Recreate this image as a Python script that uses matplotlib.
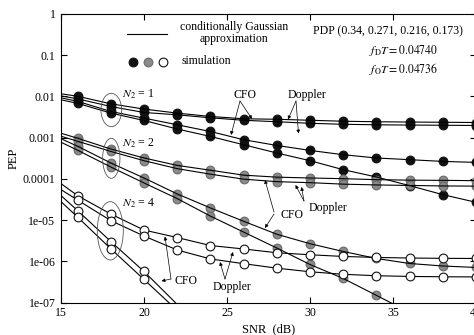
import numpy as np
import matplotlib
matplotlib.use("Agg")
import matplotlib.pyplot as plt
from matplotlib.patches import Ellipse
from matplotlib.lines import Line2D
from matplotlib.transforms import IdentityTransform
from matplotlib.ticker import NullLocator

plt.rcParams["font.family"] = "Liberation Serif"
plt.rcParams["mathtext.fontset"] = "stix"
plt.rcParams["font.size"] = 8.5

# SNR grid (dB); 15 dB is where the approximation lines start
snr = np.array([15, 16, 18, 20, 22, 24, 26, 28, 30, 32, 34, 36, 38, 40])

# N2 = 1 (black)
n1_a = [1.16e-2, 1.01e-2, 6.62e-3, 4.93e-3, 3.94e-3, 3.26e-3, 2.87e-3, 2.79e-3, 2.64e-3, 2.50e-3, 2.43e-3, 2.39e-3, 2.36e-3, 2.33e-3]
n1_b = [1.03e-2, 8.75e-3, 5.69e-3, 4.08e-3, 3.58e-3, 3.03e-3, 2.64e-3, 2.43e-3, 2.23e-3, 2.11e-3, 2.05e-3, 2.02e-3, 2.00e-3, 1.97e-3]
n1_c = [9.25e-3, 7.61e-3, 4.31e-3, 2.98e-3, 2.05e-3, 1.41e-3, 8.90e-4, 6.47e-4, 4.90e-4, 3.85e-4, 3.21e-4, 2.92e-4, 2.65e-4, 2.51e-4]
n1_d = [8.27e-3, 6.81e-3, 3.94e-3, 2.61e-3, 1.62e-3, 1.07e-3, 6.73e-4, 4.24e-4, 2.76e-4, 1.67e-4, 1.11e-4, 6.85e-5, 4.14e-5, 2.70e-5]

# N2 = 2 (grey)
n2_a = [1.28e-3, 9.67e-4, 5.30e-4, 3.21e-4, 2.12e-4, 1.62e-4, 1.23e-4, 1.10e-4, 1.05e-4, 1.01e-4, 9.56e-5, 9.30e-5, 9.20e-5, 9.04e-5]
n2_b = [1.08e-3, 8.18e-4, 4.63e-4, 2.76e-4, 1.77e-4, 1.30e-4, 9.83e-5, 8.55e-5, 8.09e-5, 7.44e-5, 7.12e-5, 6.92e-5, 6.73e-5, 6.66e-5]
n2_c = [9.41e-4, 6.19e-4, 2.43e-4, 1.05e-4, 4.31e-5, 1.97e-5, 9.35e-6, 4.53e-6, 2.67e-6, 1.73e-6, 1.17e-6, 8.84e-7, 7.69e-7, 7.08e-7]
n2_d = [7.74e-4, 4.95e-4, 1.94e-4, 7.96e-5, 3.32e-5, 1.25e-5, 5.12e-6, 2.10e-6, 8.36e-7, 3.83e-7, 1.49e-7, 5.76e-8]

# N2 = 4 (white)
n4_a = [7.65e-5, 3.92e-5, 1.40e-5, 5.73e-6, 3.77e-6, 2.41e-6, 1.99e-6, 1.61e-6, 1.44e-6, 1.31e-6, 1.24e-6, 1.20e-6, 1.18e-6, 1.17e-6]
n4_b = [5.48e-5, 3.05e-5, 9.72e-6, 4.10e-6, 1.88e-6, 1.14e-6, 8.75e-7, 6.81e-7, 5.57e-7, 4.84e-7, 4.46e-7, 4.29e-7, 4.21e-7, 4.17e-7]
n4_c = [3.92e-5, 1.70e-5, 3.02e-6, 5.66e-7, 9.0e-8]
n4_d = [2.80e-5, 1.18e-5, 2.01e-6, 3.62e-7, 6.44e-8]

yticks = [1, 0.1, 0.01, 0.001, 0.0001, 1e-5, 1e-6, 1e-7]
ytick_labels = ["1", "0.1", "0.01", "0.001", "0.0001", "1e-05", "1e-06", "1e-07"]
xticks = [15, 20, 25, 30, 35, 40]

black = dict(mfc="#111111", mec="#111111", zorder=2)
grey = dict(mfc="#8a8a8a", mec="#6a6a6a", zorder=2)
white = dict(mfc="white", mec="#111111", zorder=4)

curves = [(n1_a, black), (n1_b, black), (n1_c, black), (n1_d, black),
          (n2_a, grey), (n2_b, grey), (n2_c, grey), (n2_d, grey),
          (n4_a, white), (n4_b, white), (n4_c, white), (n4_d, white)]

W, H = 474, 335
fig = plt.figure(figsize=(W / 100, H / 100), dpi=100)
ax = fig.add_axes([61 / W, 32.5 / H, 415 / W, 288.5 / H])

for pep, st in curves:
    pep = np.array(pep)
    x = snr[:len(pep)]
    ax.plot(x, pep, color="k", lw=0.8, zorder=3)
    keep = (x > 15) & (pep >= 1e-7)
    ax.plot(x[keep], pep[keep], "o", ms=6.3, mew=0.8, ls="none", **st)

ax.set_yscale("log")
ax.set_xlim(15, 40)
ax.set_ylim(1e-7, 1)
ax.set_xticks(xticks)
ax.set_yticks(yticks)
ax.set_yticklabels(ytick_labels)
ax.yaxis.set_minor_locator(NullLocator())
ax.tick_params(direction="in", top=True, right=True, length=4, width=0.8)
ax.tick_params(axis="x", pad=3)
ax.tick_params(axis="y", pad=4)
for s in ax.spines.values():
    s.set_linewidth(0.8)
ax.set_xlabel("SNR  (dB)", fontsize=9, labelpad=3)
ax.set_ylabel("PEP", fontsize=9, labelpad=2)


# annotation helpers in image pixels (origin top-left)
def fp(x, y):
    return (x, H - y)


def txt(s, x, y, ha="center"):
    ax.annotate(s, xy=fp(x, y), xycoords="figure pixels", ha=ha, va="center")


def arrow(x0, y0, x1, y1):
    ax.annotate("", xy=fp(x1, y1), xytext=fp(x0, y0), xycoords="figure pixels",
                textcoords="figure pixels",
                arrowprops=dict(arrowstyle="-|>", lw=0.5, color="k",
                                mutation_scale=5, shrinkA=0, shrinkB=0))


def ellipse(cx, cy, w, h):
    fig.add_artist(Ellipse(fp(cx, cy), w, h, transform=IdentityTransform(),
                           fill=False, ec="#555555", lw=0.6))


# legend block
fig.add_artist(Line2D([127, 167], [H - 34, H - 34], transform=IdentityTransform(),
                      color="k", lw=0.8))
ax.annotate("conditionally Gaussian\napproximation", xy=fp(234, 33),
            xycoords="figure pixels", ha="center", va="center", linespacing=1.0)
for xm, st in [(133, black), (148, grey), (163, white)]:
    fig.add_artist(Line2D([xm], [H - 61.5], transform=IdentityTransform(), marker="o",
                          ms=6.3, mew=0.8, mfc=st["mfc"], mec=st["mec"], ls="none"))
txt("simulation", 182, 61.5, ha="left")

txt("PDP (0.34, 0.271, 0.216, 0.173)", 388, 31.5)
txt(r"$f_{\mathrm{D}}T = 0.04740$", 369, 51, ha="left")
txt(r"$f_{\mathrm{O}}T = 0.04736$", 369, 69, ha="left")

# group labels and ellipses
txt(r"$N_2$ = 1", 122, 94, ha="left")
txt(r"$N_2$ = 2", 122, 143.5, ha="left")
txt(r"$N_2$ = 4", 122, 203.5, ha="left")
ellipse(111.3, 110, 20.7, 33.3)
ellipse(111.3, 158.3, 17.3, 40)
ellipse(110.3, 230.8, 26, 58.3)

# CFO / Doppler call-outs
txt("CFO", 245, 95)
arrow(240, 101, 231, 135)
arrow(240, 101, 252, 119)
txt("Doppler", 307, 95)
arrow(296, 101, 288, 119.5)
arrow(296, 101, 298.5, 133.5)

txt("CFO", 292, 215)
arrow(274, 212, 265, 180)
arrow(274, 214, 265, 228)
txt("Doppler", 328, 208.5)
arrow(304, 201, 295.5, 185)
arrow(304, 201, 301.5, 187)

txt("CFO", 186, 281)
arrow(171, 279, 165, 236.5)
arrow(171, 279, 161.5, 281)
txt("Doppler", 232, 287)
arrow(225, 279, 220, 262)
arrow(225, 279, 233, 252)

fig.savefig("out.png", dpi=100)
